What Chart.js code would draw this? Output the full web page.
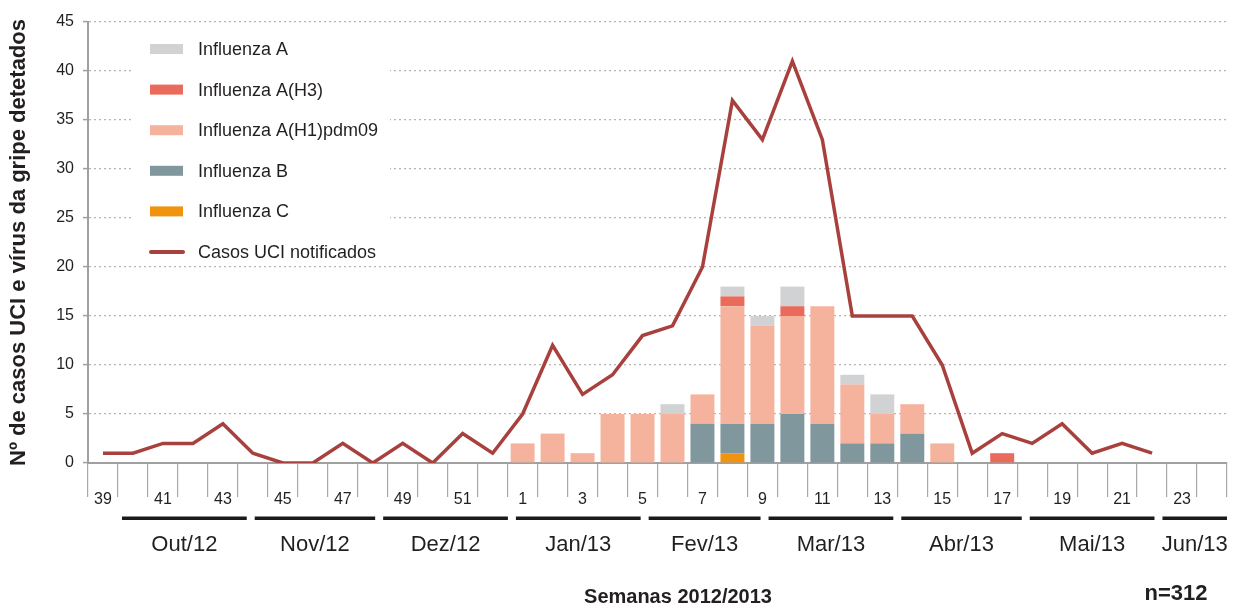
<!DOCTYPE html>
<html><head><meta charset="utf-8">
<script src="https://cdn.jsdelivr.net/npm/chart.js@4/dist/chart.umd.min.js"></script>
<style>html,body{margin:0;padding:0;background:#fff}#wrap{width:1239px;height:608px;position:relative}</style>
</head><body><div id="wrap"><canvas id="c"></canvas></div>
<script>
// ---- data ----
const weeks = [39,40,41,42,43,44,45,46,47,48,49,50,51,52,1,2,3,4,5,6,7,8,9,10,11,12,13,14,15,16,17,18,19,20,21,22,23,24];
const casosUCI   = [1,1,2,2,4,1,0,0,2,0,2,0,3,1, 5,12,7,9,13,14,20,37,33,41,33,15,15,15,10,1,3,2,4,1,2,1,null,null];
const influenzaC = [0,0,0,0,0,0,0,0,0,0,0,0,0,0, 0,0,0,0,0,0,0,1,0,0,0,0,0,0,0,0,0,0,0,0,0,0,0,0];
const influenzaB = [0,0,0,0,0,0,0,0,0,0,0,0,0,0, 0,0,0,0,0,0,4,3,4,5,4,2,2,3,0,0,0,0,0,0,0,0,0,0];
const influenzaH1= [0,0,0,0,0,0,0,0,0,0,0,0,0,0, 2,3,1,5,5,5,3,12,10,10,12,6,3,3,2,0,0,0,0,0,0,0,0,0];
const influenzaH3= [0,0,0,0,0,0,0,0,0,0,0,0,0,0, 0,0,0,0,0,0,0,1,0,1,0,0,0,0,0,0,1,0,0,0,0,0,0,0];
const influenzaA = [0,0,0,0,0,0,0,0,0,0,0,0,0,0, 0,0,0,0,0,1,0,1,1,2,0,1,2,0,0,0,0,0,0,0,0,0,0,0];
const yTicks = [0,5,10,15,20,25,30,35,40,45];
const monthLabels = ['Out/12','Nov/12','Dez/12','Jan/13','Fev/13','Mar/13','Abr/13','Mai/13','Jun/13'];
const monthDays = [31,30,31,31,28,31,30,31,30];
const xTitle = 'Semanas 2012/2013';
const yTitle = 'Nº de casos UCI e vírus da gripe detetados';
const nLabel = 'n=312';
const legendOrder = ['Influenza A','Influenza A(H3)','Influenza A(H1)pdm09','Influenza B','Influenza C','Casos UCI notificados'];

const FONT = "'Liberation Sans', Arial, Helvetica, sans-serif";
const TXT = '#231f20';
Chart.defaults.font.family = FONT;
Chart.defaults.color = TXT;

const decor = {
  id: 'decor',
  beforeDatasetsDraw(chart) {
    const ctx = chart.ctx;
    ctx.save(); ctx.fillStyle = '#fff'; ctx.fillRect(134, 29, 256, 234); ctx.restore();
  },
  afterDraw(chart) {
    const ctx = chart.ctx, x = chart.scales.x;
    ctx.save();
    // legend
    legendOrder.forEach((lab, k) => {
      const ds = chart.data.datasets.find(d => d.label === lab);
      const cy = 49 + k * 40.6;
      if (ds.type === 'line') {
        ctx.strokeStyle = ds.borderColor; ctx.lineWidth = 4; ctx.lineCap = 'round';
        ctx.beginPath(); ctx.moveTo(151, cy); ctx.lineTo(183, cy); ctx.stroke();
      } else {
        ctx.fillStyle = ds.backgroundColor; ctx.fillRect(150, cy - 5, 33, 10);
      }
      ctx.fillStyle = TXT; ctx.font = '18px ' + FONT; ctx.textBaseline = 'middle'; ctx.textAlign = 'left';
      ctx.fillText(lab, 198, cy + 1);
    });
    // month bars
    const p0 = x.getPixelForValue(0), step = x.getPixelForValue(1) - p0;
    const px = v => p0 + v * step;
    let start = 0.5;
    monthLabels.forEach((lab, i) => {
      const end = start + monthDays[i] / 7;
      const a = px(start) + 4, b = Math.min(px(end) - 4, x.right);
      ctx.fillStyle = '#1a1a1a'; ctx.fillRect(a, 516.5, b - a, 3.5);
      ctx.fillStyle = TXT; ctx.font = '22px ' + FONT; ctx.textAlign = 'center'; ctx.textBaseline = 'middle';
      ctx.fillText(lab, (a + b) / 2, 545);
      start = end;
    });
    // titles
    ctx.font = 'bold 20px ' + FONT; ctx.textAlign = 'center'; ctx.textBaseline = 'middle';
    ctx.fillText(xTitle, 678, 597);
    ctx.font = 'bold 22px ' + FONT;
    ctx.fillText(nLabel, 1176, 594);
    ctx.restore();
  }
};

const barOpts = { type: 'bar', stack: 's', order: 1, barPercentage: 0.8, categoryPercentage: 1.0, borderWidth: 0 };
new Chart(document.getElementById('c'), {
  data: {
    labels: weeks.map(String),
    datasets: [
      Object.assign({ label: 'Influenza C', data: influenzaC, backgroundColor: '#f0930e' }, barOpts),
      Object.assign({ label: 'Influenza B', data: influenzaB, backgroundColor: '#7f979d' }, barOpts),
      Object.assign({ label: 'Influenza A(H1)pdm09', data: influenzaH1, backgroundColor: '#f5b39e' }, barOpts),
      Object.assign({ label: 'Influenza A(H3)', data: influenzaH3, backgroundColor: '#ea6b5b' }, barOpts),
      Object.assign({ label: 'Influenza A', data: influenzaA, backgroundColor: '#d1d2d4' }, barOpts),
      { type: 'line', label: 'Casos UCI notificados', data: casosUCI, borderColor: '#a8413d', backgroundColor: '#a8413d',
        borderWidth: 3.5, pointRadius: 0, tension: 0, order: 0, spanGaps: false, borderJoinStyle: 'miter' }
    ]
  },
  options: {
    responsive: true, maintainAspectRatio: false, animation: false,
    layout: { padding: { top: 22, right: 12, left: 0, bottom: 0 } },
    plugins: { legend: { display: false }, tooltip: { enabled: false } },
    scales: {
      x: {
        stacked: true, offset: true,
        grid: { offset: true, drawOnChartArea: false, tickLength: 34, color: '#a8a8a8', lineWidth: 1.2 },
        border: { color: '#a0a0a0', width: 2 },
        ticks: { autoSkip: false, maxRotation: 0, padding: -7, color: TXT, font: { size: 16 },
          callback: (v, i) => (i % 2 === 0 ? weeks[i] : '') },
        afterFit: s => { s.height = 608 - 463; }
      },
      y: {
        stacked: true, min: 0, max: 45,
        afterBuildTicks: s => { s.ticks = yTicks.map(v => ({ value: v })); },
        grid: { tickLength: 5, lineWidth: 1.2, tickWidth: 1.5, tickColor: '#a0a0a0',
          color: c => (c.tick && c.tick.value === 0 ? 'rgba(0,0,0,0)' : '#b4b4b4') },
        border: { color: '#a0a0a0', width: 2, dash: [2, 3] },
        ticks: { padding: 9, color: TXT, font: { size: 16 } },
        title: { display: true, text: yTitle, color: TXT, font: { size: 22, weight: 'bold' }, padding: { top: 6, bottom: 0 } },
        afterFit: s => { s.width = 88; }
      }
    }
  },
  plugins: [decor]
});
</script></body></html>
